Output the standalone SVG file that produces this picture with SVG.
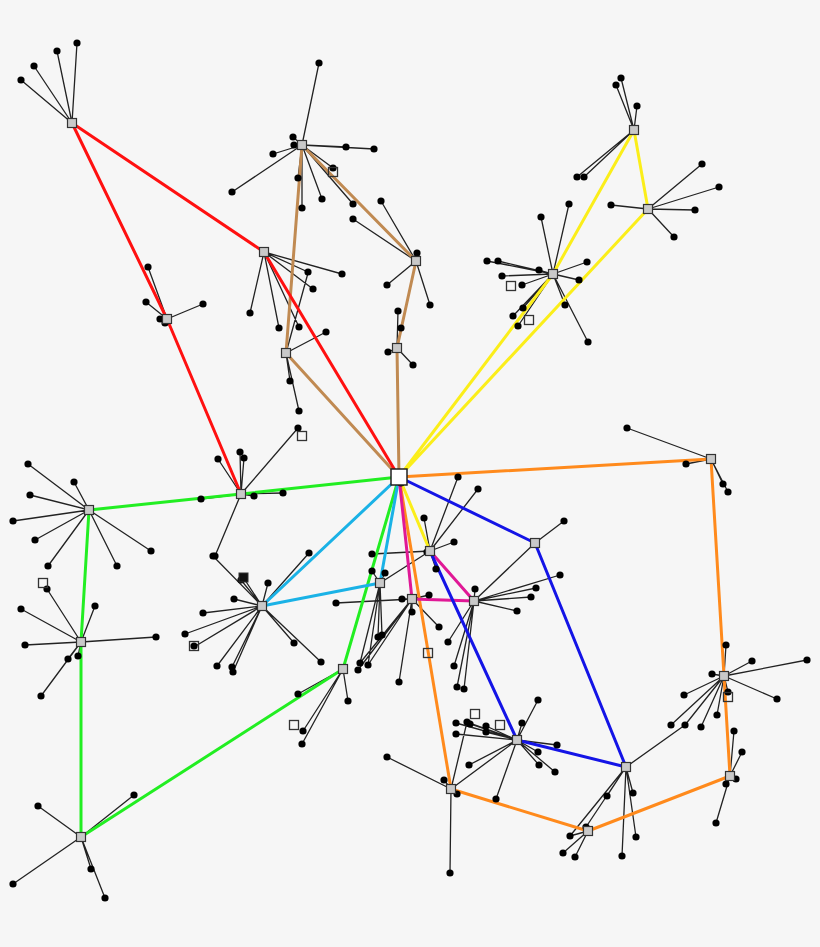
<svg xmlns="http://www.w3.org/2000/svg" xmlns:xlink="http://www.w3.org/1999/xlink" width="820" height="947" viewBox="0 0 820 947">
<style>
.bg{fill:#f6f6f6}
.e{fill:none;stroke:#222;stroke-width:1.3}
.c{fill:none;stroke-width:3;stroke-linejoin:round;stroke-linecap:round}
.red{stroke:#ff1010}.brown{stroke:#c08a52}.yellow{stroke:#fbee1a}.orange{stroke:#ff8a1c}
.green{stroke:#22ee22}.blue{stroke:#1414e6}.cyan{stroke:#1ab2e6}.mag{stroke:#e01896}
.sq{fill:#c9c9c9;stroke:#333;stroke-width:1.2}
.hub{fill:#fff;stroke:#222;stroke-width:1.5}
.ws{fill:none;stroke:#333;stroke-width:1.3}
.l{fill:#000}
</style>
<defs>
<rect id="sq" x="-4.5" y="-4.5" width="9" height="9" class="sq"/>
<rect id="wsq" x="-4.5" y="-4.5" width="9" height="9" class="ws"/>
<circle id="dot" r="3.6" class="l"/>
</defs>
<rect class="bg" width="820" height="947"/>
<g id="connectors">
<path class="e" d="M72 123L21 80M72 123L34 66M72 123L57 51M72 123L77 43
M167 319L148 267M167 319L146 302M167 319L203 304M167 319L160 319M167 319L165 323
M241 494L218 459M241 494L240 452M241 494L244 458M241 494L298 428M241 494L201 499M241 494L254 496M241 494L283 493M241 494L215 556
M264 252L250 313M264 252L279 328M264 252L299 327M264 252L308 272M264 252L342 274M264 252L313 289
M302 145L319 63M302 145L293 137M302 145L294 145M302 145L273 154M302 145L232 192M302 145L346 147M302 145L374 149M302 145L333 168M302 145L298 178M302 145L322 199M302 145L302 208M302 145L353 204
M286 353L326 332M286 353L290 381M286 353L299 411M286 353L308 273
M416 261L353 219M416 261L381 201M416 261L417 253M416 261L387 285M416 261L430 305
M397 348L398 311M397 348L401 328M397 348L388 352M397 348L413 365
M634 130L621 78M634 130L616 85M634 130L637 106M634 130L577 177M634 130L584 177
M648 209L702 164M648 209L719 187M648 209L695 210M648 209L611 205M648 209L674 237
M553 274L541 217M553 274L569 204M553 274L587 262M553 274L579 280M553 274L565 305M553 274L588 342M553 274L487 261M553 274L498 261M553 274L502 276M553 274L522 285M553 274L523 308M553 274L513 316M553 274L518 326M553 274L539 270
M711 459L627 428M711 459L686 464M711 459L723 484M711 459L728 492
M724 676L726 645M724 676L752 661M724 676L807 660M724 676L712 674M724 676L684 695M724 676L777 699M724 676L728 692M724 676L717 715M724 676L701 727M724 676L685 725M724 676L671 725
M730 776L734 731M730 776L742 752M730 776L736 779M730 776L726 784M730 776L716 823
M588 831L570 836M588 831L563 853M588 831L575 857M588 831L586 827
M451 789L444 780M451 789L467 722M451 789L387 757M451 789L450 873M451 789L457 794
M89 510L28 464M89 510L74 482M89 510L30 495M89 510L13 521M89 510L35 540M89 510L48 566M89 510L117 566M89 510L151 551
M81 642L47 589M81 642L21 609M81 642L95 606M81 642L25 645M81 642L156 637M81 642L68 659M81 642L78 656M81 642L41 696
M81 837L38 806M81 837L134 795M81 837L13 884M81 837L91 869M81 837L105 898
M343 669L298 694M343 669L348 701M343 669L303 731M343 669L302 744
M535 543L564 521M535 543L474 601
M626 767L607 796M626 767L633 793M626 767L636 837M626 767L622 856M626 767L570 836M626 767L586 827M626 767L685 725
M517 740L456 723M517 740L467 722M517 740L470 724M517 740L486 726M517 740L486 732M517 740L456 734M517 740L522 723M517 740L538 752M517 740L539 765M517 740L469 765M517 740L496 799M517 740L538 700M517 740L557 745M517 740L555 772M517 740L451 789
M430 551L424 518M430 551L454 542M430 551L436 569M430 551L427 552M430 551L372 554M430 551L458 477M430 551L478 489M430 551L380 583
M412 599L336 603M412 599L402 599M412 599L429 595M412 599L412 612M412 599L439 627M412 599L399 682M412 599L360 663M412 599L358 670M412 599L368 665
M474 601L475 589M474 601L536 588M474 601L531 597M474 601L517 611M474 601L448 642M474 601L454 666M474 601L457 687M474 601L464 689M474 601L560 575
M380 583L372 571M380 583L385 573M380 583L378 637M380 583L382 635M380 583L360 663M380 583L368 665
M262 606L243 577M262 606L241 580M262 606L234 599M262 606L268 583M262 606L203 613M262 606L185 634M262 606L194 647M262 606L217 666M262 606L232 667M262 606L233 672M262 606L213 556M262 606L309 553M262 606L294 643M262 606L321 662
M399 477L401 483"/>
<polyline class="c brown" points="302,145 286,353 399,477"/>
<polyline class="c brown" points="302,145 416,261 397,348 399,477"/>
<polyline class="c red" points="72,123 167,319 241,494"/>
<polyline class="c red" points="72,123 264,252 399,477"/>
<polyline class="c yellow" points="399,477 553,274 634,130 648,209 399,477"/>
<polyline class="c yellow" points="399,477 430,551"/>
<polyline class="c orange" points="399,477 711,459 724,676 730,776 588,831 451,789 399,477"/>
<polyline class="c green" points="399,477 241,494 89,510 81,642 81,837 343,669 399,477"/>
<polyline class="c cyan" points="399,477 380,583 262,606 399,477"/>
<polyline class="c mag" points="399,477 412,599 474,601 430,551"/>
<polyline class="c blue" points="399,477 535,543 626,767 517,740 430,551"/>
</g>
<g id="leaves">
<use href="#dot" x="21" y="80"/><use href="#dot" x="34" y="66"/><use href="#dot" x="57" y="51"/><use href="#dot" x="77" y="43"/>
<use href="#dot" x="148" y="267"/><use href="#dot" x="146" y="302"/><use href="#dot" x="203" y="304"/><use href="#dot" x="160" y="319"/><use href="#dot" x="165" y="323"/>
<use href="#dot" x="218" y="459"/><use href="#dot" x="240" y="452"/><use href="#dot" x="244" y="458"/><use href="#dot" x="298" y="428"/><use href="#dot" x="201" y="499"/><use href="#dot" x="254" y="496"/><use href="#dot" x="283" y="493"/><use href="#dot" x="215" y="556"/>
<use href="#dot" x="250" y="313"/><use href="#dot" x="279" y="328"/><use href="#dot" x="299" y="327"/><use href="#dot" x="308" y="272"/><use href="#dot" x="342" y="274"/><use href="#dot" x="313" y="289"/>
<use href="#dot" x="319" y="63"/><use href="#dot" x="293" y="137"/><use href="#dot" x="294" y="145"/><use href="#dot" x="273" y="154"/><use href="#dot" x="232" y="192"/><use href="#dot" x="346" y="147"/><use href="#dot" x="374" y="149"/><use href="#dot" x="333" y="168"/><use href="#dot" x="298" y="178"/><use href="#dot" x="322" y="199"/><use href="#dot" x="302" y="208"/><use href="#dot" x="353" y="204"/>
<use href="#dot" x="326" y="332"/><use href="#dot" x="290" y="381"/><use href="#dot" x="299" y="411"/>
<use href="#dot" x="353" y="219"/><use href="#dot" x="381" y="201"/><use href="#dot" x="417" y="253"/><use href="#dot" x="387" y="285"/><use href="#dot" x="430" y="305"/>
<use href="#dot" x="398" y="311"/><use href="#dot" x="401" y="328"/><use href="#dot" x="388" y="352"/><use href="#dot" x="413" y="365"/>
<use href="#dot" x="621" y="78"/><use href="#dot" x="616" y="85"/><use href="#dot" x="637" y="106"/><use href="#dot" x="577" y="177"/><use href="#dot" x="584" y="177"/>
<use href="#dot" x="702" y="164"/><use href="#dot" x="719" y="187"/><use href="#dot" x="695" y="210"/><use href="#dot" x="611" y="205"/><use href="#dot" x="674" y="237"/>
<use href="#dot" x="541" y="217"/><use href="#dot" x="569" y="204"/><use href="#dot" x="587" y="262"/><use href="#dot" x="579" y="280"/><use href="#dot" x="565" y="305"/><use href="#dot" x="588" y="342"/><use href="#dot" x="487" y="261"/><use href="#dot" x="498" y="261"/><use href="#dot" x="502" y="276"/><use href="#dot" x="522" y="285"/><use href="#dot" x="523" y="308"/><use href="#dot" x="513" y="316"/><use href="#dot" x="518" y="326"/><use href="#dot" x="539" y="270"/>
<use href="#dot" x="627" y="428"/><use href="#dot" x="686" y="464"/><use href="#dot" x="723" y="484"/><use href="#dot" x="728" y="492"/>
<use href="#dot" x="726" y="645"/><use href="#dot" x="752" y="661"/><use href="#dot" x="807" y="660"/><use href="#dot" x="712" y="674"/><use href="#dot" x="684" y="695"/><use href="#dot" x="777" y="699"/><use href="#dot" x="728" y="692"/><use href="#dot" x="717" y="715"/><use href="#dot" x="701" y="727"/><use href="#dot" x="685" y="725"/><use href="#dot" x="671" y="725"/>
<use href="#dot" x="734" y="731"/><use href="#dot" x="742" y="752"/><use href="#dot" x="736" y="779"/><use href="#dot" x="726" y="784"/><use href="#dot" x="716" y="823"/>
<use href="#dot" x="570" y="836"/><use href="#dot" x="563" y="853"/><use href="#dot" x="575" y="857"/><use href="#dot" x="586" y="827"/>
<use href="#dot" x="444" y="780"/><use href="#dot" x="467" y="722"/><use href="#dot" x="387" y="757"/><use href="#dot" x="450" y="873"/><use href="#dot" x="457" y="794"/>
<use href="#dot" x="28" y="464"/><use href="#dot" x="74" y="482"/><use href="#dot" x="30" y="495"/><use href="#dot" x="13" y="521"/><use href="#dot" x="35" y="540"/><use href="#dot" x="48" y="566"/><use href="#dot" x="117" y="566"/><use href="#dot" x="151" y="551"/>
<use href="#dot" x="47" y="589"/><use href="#dot" x="21" y="609"/><use href="#dot" x="95" y="606"/><use href="#dot" x="25" y="645"/><use href="#dot" x="156" y="637"/><use href="#dot" x="68" y="659"/><use href="#dot" x="78" y="656"/><use href="#dot" x="41" y="696"/>
<use href="#dot" x="38" y="806"/><use href="#dot" x="134" y="795"/><use href="#dot" x="13" y="884"/><use href="#dot" x="91" y="869"/><use href="#dot" x="105" y="898"/>
<use href="#dot" x="298" y="694"/><use href="#dot" x="348" y="701"/><use href="#dot" x="303" y="731"/><use href="#dot" x="302" y="744"/>
<use href="#dot" x="564" y="521"/>
<use href="#dot" x="607" y="796"/><use href="#dot" x="633" y="793"/><use href="#dot" x="636" y="837"/><use href="#dot" x="622" y="856"/>
<use href="#dot" x="456" y="723"/><use href="#dot" x="470" y="724"/><use href="#dot" x="486" y="726"/><use href="#dot" x="486" y="732"/><use href="#dot" x="456" y="734"/><use href="#dot" x="522" y="723"/><use href="#dot" x="538" y="752"/><use href="#dot" x="539" y="765"/><use href="#dot" x="469" y="765"/><use href="#dot" x="496" y="799"/><use href="#dot" x="538" y="700"/><use href="#dot" x="557" y="745"/><use href="#dot" x="555" y="772"/>
<use href="#dot" x="424" y="518"/><use href="#dot" x="454" y="542"/><use href="#dot" x="436" y="569"/><use href="#dot" x="427" y="552"/><use href="#dot" x="372" y="554"/><use href="#dot" x="458" y="477"/><use href="#dot" x="478" y="489"/>
<use href="#dot" x="336" y="603"/><use href="#dot" x="402" y="599"/><use href="#dot" x="429" y="595"/><use href="#dot" x="412" y="612"/><use href="#dot" x="439" y="627"/><use href="#dot" x="399" y="682"/><use href="#dot" x="360" y="663"/><use href="#dot" x="358" y="670"/><use href="#dot" x="368" y="665"/>
<use href="#dot" x="475" y="589"/><use href="#dot" x="536" y="588"/><use href="#dot" x="531" y="597"/><use href="#dot" x="517" y="611"/><use href="#dot" x="448" y="642"/><use href="#dot" x="454" y="666"/><use href="#dot" x="457" y="687"/><use href="#dot" x="464" y="689"/><use href="#dot" x="560" y="575"/>
<use href="#dot" x="372" y="571"/><use href="#dot" x="385" y="573"/><use href="#dot" x="378" y="637"/><use href="#dot" x="382" y="635"/>
<use href="#dot" x="241" y="580"/><use href="#dot" x="234" y="599"/><use href="#dot" x="268" y="583"/><use href="#dot" x="203" y="613"/><use href="#dot" x="185" y="634"/><use href="#dot" x="217" y="666"/><use href="#dot" x="232" y="667"/><use href="#dot" x="233" y="672"/><use href="#dot" x="213" y="556"/><use href="#dot" x="309" y="553"/><use href="#dot" x="294" y="643"/><use href="#dot" x="321" y="662"/>
<use href="#dot" x="401" y="483"/>
</g>
<g id="empty-squares">
<use href="#wsq" x="302" y="436"/><use href="#wsq" x="511" y="286"/><use href="#wsq" x="529" y="320"/><use href="#wsq" x="43" y="583"/><use href="#wsq" x="428" y="653"/><use href="#wsq" x="294" y="725"/><use href="#wsq" x="475" y="714"/><use href="#wsq" x="500" y="725"/><use href="#wsq" x="333" y="172"/><use href="#wsq" x="728" y="697"/>
<use href="#wsq" x="194" y="646"/><use href="#dot" x="194" y="646"/>
<rect x="239" y="573" width="9" height="9" fill="#111" stroke="#333"/>
</g>
<g id="node-A"><use href="#sq" x="72" y="123"/></g>
<g id="node-B"><use href="#sq" x="167" y="319"/></g>
<g id="node-C"><use href="#sq" x="241" y="494"/></g>
<g id="node-D"><use href="#sq" x="264" y="252"/></g>
<g id="node-E"><use href="#sq" x="302" y="145"/></g>
<g id="node-F"><use href="#sq" x="286" y="353"/></g>
<g id="node-G"><use href="#sq" x="416" y="261"/></g>
<g id="node-H"><use href="#sq" x="397" y="348"/></g>
<g id="node-I"><use href="#sq" x="634" y="130"/></g>
<g id="node-J"><use href="#sq" x="648" y="209"/></g>
<g id="node-K"><use href="#sq" x="553" y="274"/></g>
<g id="node-L"><use href="#sq" x="711" y="459"/></g>
<g id="node-M"><use href="#sq" x="724" y="676"/></g>
<g id="node-N"><use href="#sq" x="730" y="776"/></g>
<g id="node-O"><use href="#sq" x="588" y="831"/></g>
<g id="node-P"><use href="#sq" x="451" y="789"/></g>
<g id="node-Q"><use href="#sq" x="89" y="510"/></g>
<g id="node-R"><use href="#sq" x="81" y="642"/></g>
<g id="node-S"><use href="#sq" x="81" y="837"/></g>
<g id="node-T"><use href="#sq" x="343" y="669"/></g>
<g id="node-U"><use href="#sq" x="535" y="543"/></g>
<g id="node-V"><use href="#sq" x="626" y="767"/></g>
<g id="node-W"><use href="#sq" x="517" y="740"/></g>
<g id="node-X"><use href="#sq" x="430" y="551"/></g>
<g id="node-Y"><use href="#sq" x="412" y="599"/></g>
<g id="node-Z"><use href="#sq" x="474" y="601"/></g>
<g id="node-AA"><use href="#sq" x="380" y="583"/></g>
<g id="node-BB"><use href="#sq" x="262" y="606"/></g>
<g id="node-hub"><rect class="hub" x="391" y="469" width="16" height="16"/></g>
</svg>
